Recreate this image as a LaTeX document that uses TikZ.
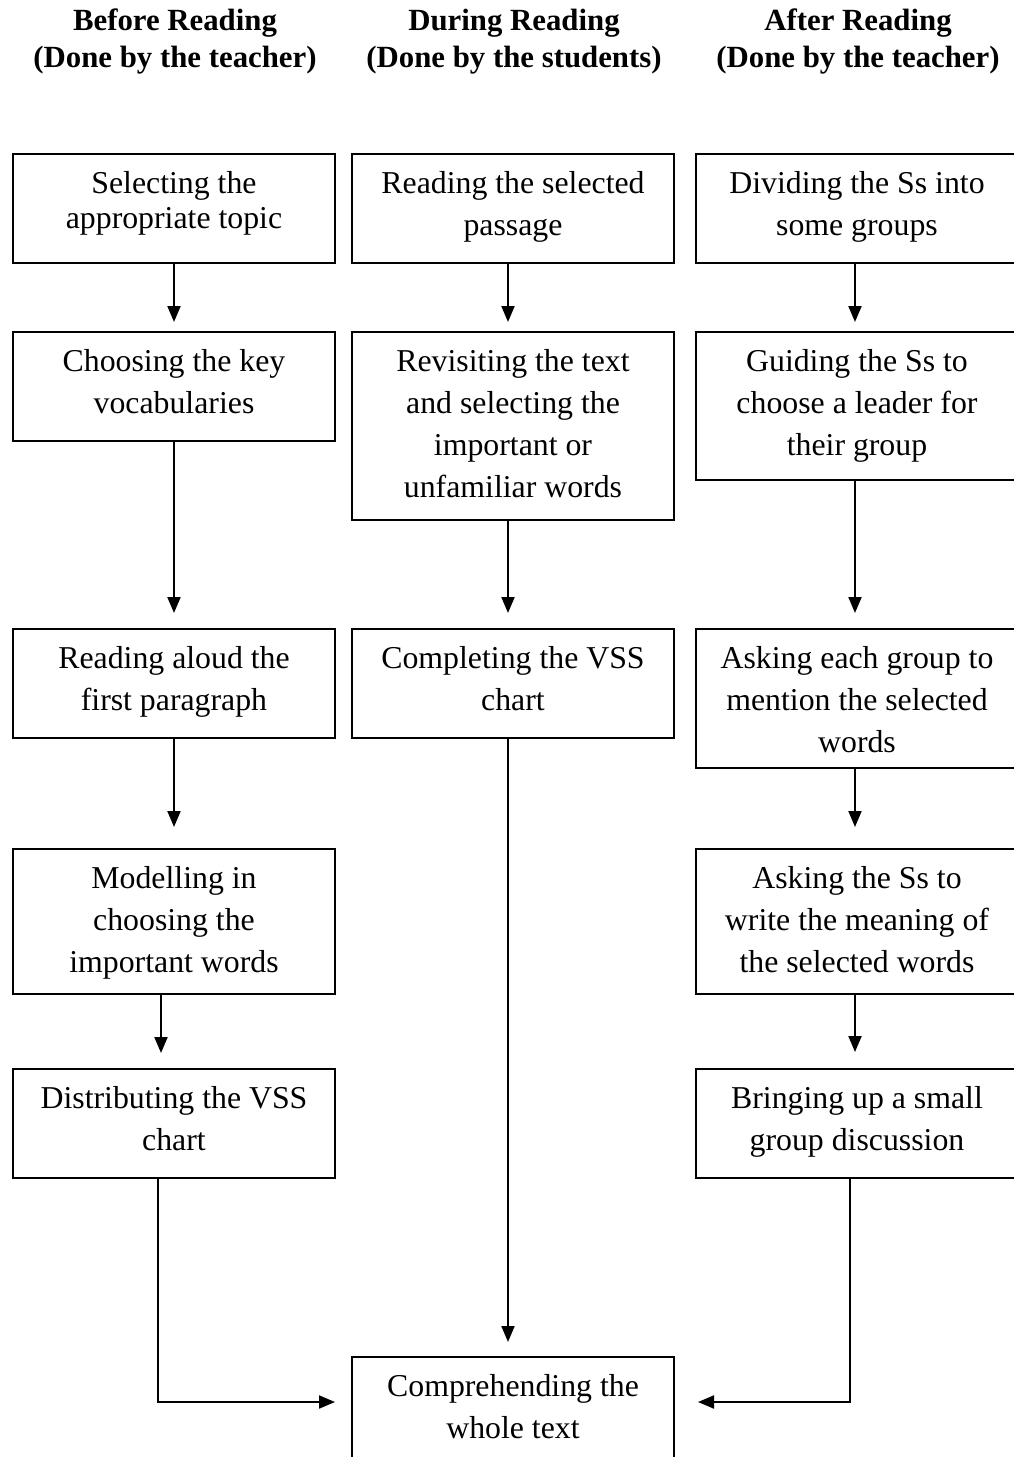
\documentclass[tikz,border=0pt]{standalone}
\usepackage{fontspec}
\setmainfont{Liberation Serif}
\usetikzlibrary{arrows.meta,calc}
\begin{document}
\begin{tikzpicture}[x=1pt,y=-1pt,
  boxnode/.style={draw, line width=2pt, minimum width=322pt, inner sep=0pt, anchor=north},
  txt/.style={anchor=base, align=center, inner sep=0pt, font=\fontsize{31.8}{42}\selectfont},
  hdr/.style={anchor=base, align=center, inner sep=0pt, font=\fontsize{30.8}{37.5}\selectfont\bfseries},
  arr/.style={-{Triangle[length=16pt,width=13pt]}, line width=2pt}]
\useasboundingbox[fill=white] (0,0) rectangle (1013,1457);

% headers (base anchor = baseline of last line)
\node[hdr] (h1) at (175,67.5) {Before Reading\\(Done by the teacher)};
\node[hdr] (h2) at (514,67.5) {During Reading\\(Done by the students)};
\node[hdr] (h3) at (858,67.5) {After Reading\\(Done by the teacher)};

% column 1
\node[boxnode, minimum height=109pt] (b1) at (174,153) {};
\node[boxnode, minimum height=109pt] (b2) at (174,331) {};
\node[boxnode, minimum height=109pt] (b3) at (174,628) {};
\node[boxnode, minimum height=145pt] (b4) at (174,848) {};
\node[boxnode, minimum height=109pt] (b5) at (174,1068) {};
% column 2
\node[boxnode, minimum height=109pt] (c1) at (513,153) {};
\node[boxnode, minimum height=188pt] (c2) at (513,331) {};
\node[boxnode, minimum height=109pt] (c3) at (513,628) {};
\node[boxnode, minimum height=109pt] (c4) at (513,1356) {};
% column 3
\node[boxnode, minimum height=109pt] (d1) at (857,153) {};
\node[boxnode, minimum height=148pt] (d2) at (857,331) {};
\node[boxnode, minimum height=139pt] (d3) at (857,628) {};
\node[boxnode, minimum height=145pt] (d4) at (857,848) {};
\node[boxnode, minimum height=109pt] (d5) at (857,1068) {};

% texts (anchored at baseline of their last line)
\node[txt, font=\fontsize{31.8}{35.5}\selectfont] (b1t) at ([yshift=-75.5pt]b1.north) {Selecting the\\appropriate topic};
\node[txt] (b2t) at ([yshift=-82pt]b2.north) {Choosing the key\\vocabularies};
\node[txt] (b3t) at ([yshift=-82pt]b3.north) {Reading aloud the\\first paragraph};
\node[txt] (b4t) at ([yshift=-124pt]b4.north) {Modelling in\\choosing the\\important words};
\node[txt] (b5t) at ([yshift=-82pt]b5.north) {Distributing the VSS\\chart};
\node[txt] (c1t) at ([yshift=-82pt]c1.north) {Reading the selected\\passage};
\node[txt] (c2t) at ([yshift=-166pt]c2.north) {Revisiting the text\\and selecting the\\important or\\unfamiliar words};
\node[txt] (c3t) at ([yshift=-82pt]c3.north) {Completing the VSS\\chart};
\node[txt] (c4t) at ([yshift=-82pt]c4.north) {Comprehending the\\whole text};
\node[txt] (d1t) at ([yshift=-82pt]d1.north) {Dividing the Ss into\\some groups};
\node[txt] (d2t) at ([yshift=-124pt]d2.north) {Guiding the Ss to\\choose a leader for\\their group};
\node[txt] (d3t) at ([yshift=-124pt]d3.north) {Asking each group to\\mention the selected\\words};
\node[txt] (d4t) at ([yshift=-124pt]d4.north) {Asking the Ss to\\write the meaning of\\the selected words};
\node[txt] (d5t) at ([yshift=-82pt]d5.north) {Bringing up a small\\group discussion};

% connectors column 1
\draw[arr, shorten >=9pt] (b1.south) -- (b2.north);
\draw[arr, shorten >=15pt] (b2.south) -- (b3.north);
\draw[arr, shorten >=21pt] (b3.south) -- (b4.north);
\draw[arr, shorten >=15pt] ([xshift=-13pt]b4.south) -- ([xshift=-13pt]b5.north);
\draw[arr, shorten >=16pt] ([xshift=-16pt]b5.south) |- ([yshift=-46pt]c4.north west);
% column 2
\draw[arr, shorten >=9pt] ([xshift=-5pt]c1.south) -- ([xshift=-5pt]c2.north);
\draw[arr, shorten >=15pt] ([xshift=-5pt]c2.south) -- ([xshift=-5pt]c3.north);
\draw[arr, shorten >=14pt] ([xshift=-5pt]c3.south) -- ([xshift=-5pt]c4.north);
% column 3
\draw[arr, shorten >=9pt] ([xshift=-2pt]d1.south) -- ([xshift=-2pt]d2.north);
\draw[arr, shorten >=15pt] ([xshift=-2pt]d2.south) -- ([xshift=-2pt]d3.north);
\draw[arr, shorten >=21pt] ([xshift=-2pt]d3.south) -- ([xshift=-2pt]d4.north);
\draw[arr, shorten >=16pt] ([xshift=-2pt]d4.south) -- ([xshift=-2pt]d5.north);
\draw[arr, shorten >=23pt] ([xshift=-7.5pt]d5.south) |- ([yshift=-46pt]c4.north east);
\end{tikzpicture}
\end{document}
